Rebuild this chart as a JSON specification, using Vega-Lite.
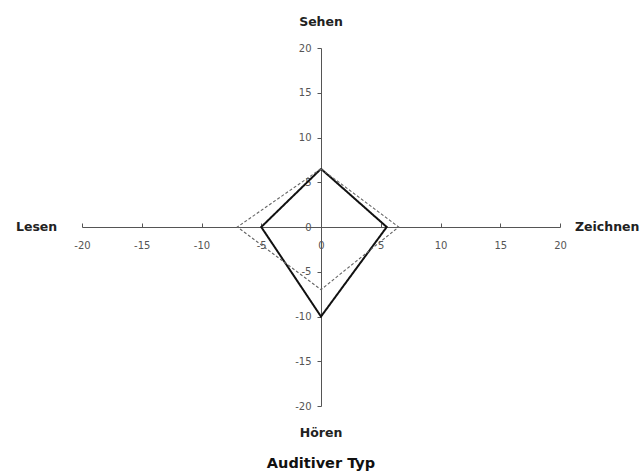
{
  "$schema": "https://vega.github.io/schema/vega-lite/v6.json",
  "autosize": "none",
  "width": 478,
  "height": 358,
  "padding": {"left": 82, "top": 48, "right": 83, "bottom": 67},
  "background": "white",
  "config": {
    "view": {"stroke": null},
    "font": "DejaVu Sans",
    "axis": {
      "grid": false,
      "domainColor": "#555",
      "tickColor": "#555",
      "labelColor": "#555",
      "labelFont": "DejaVu Sans",
      "labelFontSize": 10,
      "labelOverlap": false,
      "labelFlush": false,
      "labelExpr": "'' + datum.value",
      "title": null
    }
  },
  "datasets": {
    "profil": [
      {"typ": "Auditiver Typ", "punkt": "Sehen", "ord": 1, "x": 0, "y": 6.5},
      {"typ": "Auditiver Typ", "punkt": "Zeichnen", "ord": 2, "x": 5.5, "y": 0},
      {"typ": "Auditiver Typ", "punkt": "Hören", "ord": 3, "x": 0, "y": -10},
      {"typ": "Auditiver Typ", "punkt": "Lesen", "ord": 4, "x": -5, "y": 0},
      {"typ": "Auditiver Typ", "punkt": "Sehen", "ord": 5, "x": 0, "y": 6.5},
      {"typ": "Vergleich", "punkt": "Sehen", "ord": 1, "x": 0, "y": 6.5},
      {"typ": "Vergleich", "punkt": "Zeichnen", "ord": 2, "x": 6.5, "y": 0},
      {"typ": "Vergleich", "punkt": "Hören", "ord": 3, "x": 0, "y": -7},
      {"typ": "Vergleich", "punkt": "Lesen", "ord": 4, "x": -7, "y": 0},
      {"typ": "Vergleich", "punkt": "Sehen", "ord": 5, "x": 0, "y": 6.5}
    ],
    "beschriftung": [
      {"text": "Sehen", "x": 0, "y": 22.9},
      {"text": "Hören", "x": 0, "y": -23},
      {"text": "Lesen", "x": -23.8, "y": 0},
      {"text": "Zeichnen", "x": 23.95, "y": 0}
    ],
    "titel": [
      {"text": "Auditiver Typ", "x": 0, "y": -26.5}
    ]
  },
  "layer": [
    {
      "data": {"name": "profil"},
      "mark": {"type": "line", "clip": false},
      "encoding": {
        "x": {
          "field": "x", "type": "quantitative",
          "scale": {"domain": [-20, 20], "nice": false, "zero": false},
          "axis": {"orient": "bottom", "offset": -179, "values": [-20, -15, -10, -5, 0, 5, 10, 15, 20], "tickSize": -4, "labelPadding": 17}
        },
        "y": {
          "field": "y", "type": "quantitative",
          "scale": {"domain": [-20, 20], "nice": false, "zero": false},
          "axis": {"orient": "left", "offset": -239, "values": [-20, -15, -10, -5, 0, 5, 10, 15, 20], "tickSize": 4, "labelPadding": 6}
        },
        "order": {"field": "ord"},
        "detail": {"field": "typ"},
        "color": {"field": "typ", "type": "nominal", "scale": {"domain": ["Auditiver Typ", "Vergleich"], "range": ["#111111", "#666666"]}, "legend": null},
        "strokeDash": {"field": "typ", "type": "nominal", "scale": {"domain": ["Auditiver Typ", "Vergleich"], "range": [[1, 0], [3, 2]]}, "legend": null},
        "strokeWidth": {"field": "typ", "type": "nominal", "scale": {"domain": ["Auditiver Typ", "Vergleich"], "range": [2, 1.1]}, "legend": null}
      }
    },
    {
      "data": {"name": "beschriftung"},
      "mark": {"type": "text", "font": "DejaVu Sans", "fontWeight": "bold", "fontSize": 12.5, "color": "#222", "align": "center", "baseline": "middle", "clip": false},
      "encoding": {
        "x": {"field": "x", "type": "quantitative"},
        "y": {"field": "y", "type": "quantitative"},
        "text": {"field": "text"}
      }
    },
    {
      "data": {"name": "titel"},
      "mark": {"type": "text", "font": "DejaVu Sans", "fontWeight": "bold", "fontSize": 14.5, "color": "#111", "align": "center", "baseline": "middle", "clip": false},
      "encoding": {
        "x": {"field": "x", "type": "quantitative"},
        "y": {"field": "y", "type": "quantitative"},
        "text": {"field": "text"}
      }
    }
  ]
}
